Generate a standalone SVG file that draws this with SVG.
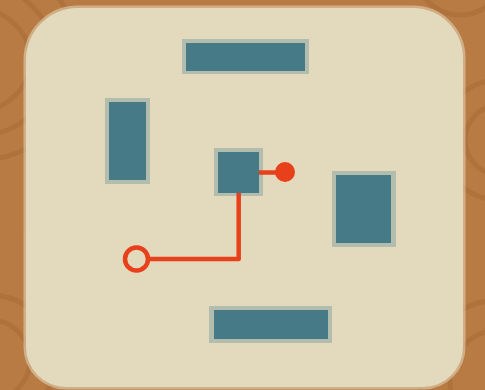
<svg xmlns="http://www.w3.org/2000/svg" width="485" height="390" viewBox="0 0 485 390">
<defs>
<style>
.ring{fill:none;stroke:#9e6231;stroke-opacity:0.35;stroke-width:5}
.block-edge{fill:#467a87;fill-opacity:0.3}
.block{fill:#467a87}
.wire{fill:none;stroke:#e8401a;stroke-width:4.5;stroke-linejoin:round}
</style>
</defs>
<rect x="0" y="0" width="485" height="390" fill="#b97b44"/>
<g>
<circle class="ring" cx="-20" cy="60" r="50"/>
<circle class="ring" cx="-20" cy="60" r="75"/>
<circle class="ring" cx="-20" cy="60" r="100"/>
<circle class="ring" cx="-10" cy="360" r="40"/>
<circle class="ring" cx="-10" cy="360" r="65"/>
<circle class="ring" cx="500" cy="140" r="35"/>
<circle class="ring" cx="500" cy="140" r="60"/>
<circle class="ring" cx="500" cy="380" r="50"/>
<circle class="ring" cx="500" cy="380" r="80"/>
<circle class="ring" cx="460" cy="-30" r="45"/>
</g>
<path d="M76 8 H413 A50 50 0 0 1 463 58 V347 A40 40 0 0 1 423 387 H66 A40 40 0 0 1 26 347 V60 A52 52 0 0 1 76 8 Z" fill="#e3dabd" stroke="#e3dabd" stroke-opacity="0.55" stroke-width="5"/>
<g id="block-top"><rect class="block-edge" x="182" y="39" width="127" height="35"/><rect class="block" x="186" y="43" width="119" height="28"/></g>
<g id="block-left"><rect class="block-edge" x="105" y="98" width="45" height="86"/><rect class="block" x="109" y="102" width="37" height="78"/></g>
<g id="block-center"><rect class="block-edge" x="214" y="148" width="49" height="48"/><rect class="block" x="218" y="152" width="41" height="41"/></g>
<g id="block-right"><rect class="block-edge" x="332" y="171" width="64" height="76"/><rect class="block" x="336" y="175" width="55" height="68"/></g>
<g id="block-bottom"><rect class="block-edge" x="209" y="306" width="123" height="37"/><rect class="block" x="214" y="310" width="114" height="29"/></g>
<g id="connectors">
<path class="wire" d="M259 172.5 H285"/>
<path class="wire" d="M238.7 193 V259 H148"/>
</g>
<g id="dot"><circle cx="285" cy="172" r="10" fill="#e8401a"/></g>
<g id="ring"><circle cx="136.5" cy="259" r="11.5" fill="none" stroke="#e8401a" stroke-width="4.5"/></g>
</svg>
